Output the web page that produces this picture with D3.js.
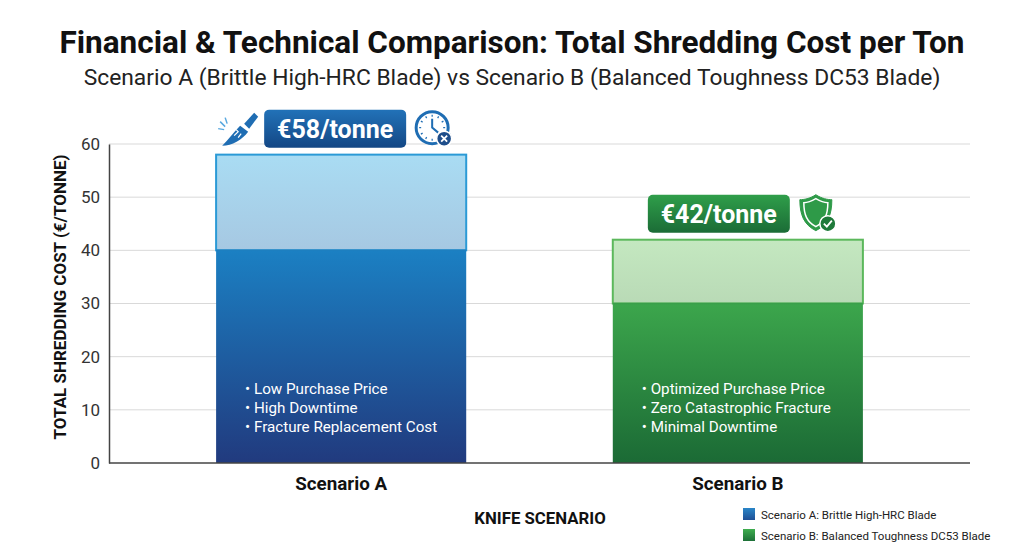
<!DOCTYPE html>
<html><head><meta charset="utf-8">
<script src="https://cdn.jsdelivr.net/npm/d3@7/dist/d3.min.js"></script>
<style>body{margin:0;background:#fff;font-family:Roboto,"Noto Sans",sans-serif;}</style>
</head><body><svg id="c" width="1024" height="559"></svg>
<script>
const categories = ["Scenario A", "Scenario B"];
const baseValues = [40, 30];
const extraValues = [18, 12];
const totalLabels = ["€58/tonne", "€42/tonne"];
const bulletsA = ["Low Purchase Price", "High Downtime", "Fracture Replacement Cost"];
const bulletsB = ["Optimized Purchase Price", "Zero Catastrophic Fracture", "Minimal Downtime"];
const yTicks = [0, 10, 20, 30, 40, 50, 60];
const legendLabels = ["Scenario A: Brittle High-HRC Blade", "Scenario B: Balanced Toughness DC53 Blade"];

const svg = d3.select("#c");
const defs = svg.append("defs");
function lg(id, c1, c2) {
  const g = defs.append("linearGradient").attr("id", id).attr("x1", 0).attr("y1", 0).attr("x2", 0).attr("y2", 1);
  g.append("stop").attr("offset", "0%").attr("stop-color", c1);
  g.append("stop").attr("offset", "100%").attr("stop-color", c2);
}
lg("aLow", "#1b80c3", "#213a7e");
lg("aHigh", "#a9dcf3", "#a6c8e2");
lg("bLow", "#3ca64c", "#1b6a35");
lg("bHigh", "#c4e8c0", "#b9dab6");
lg("aBadge", "#2272b8", "#134785");
lg("bBadge", "#2f9e4a", "#1b6c36");
lg("aLeg", "#2a86c8", "#1f4f95");
lg("bLeg", "#3fae4f", "#1d7038");

const x = d3.scaleBand().domain(categories).range([109, 970]).paddingInner(0.3695).paddingOuter(0.27);
const y = d3.scaleLinear().domain([0, 60]).range([463, 144]);

// title
svg.append("text").attr("x", 512).attr("y", 53).attr("text-anchor", "middle")
  .attr("font-size", 31.5).attr("font-weight", 700).attr("fill", "#111").text("Financial & Technical Comparison: Total Shredding Cost per Ton");
svg.append("text").attr("x", 512).attr("y", 85).attr("text-anchor", "middle")
  .attr("font-size", 22.8).attr("fill", "#222").text("Scenario A (Brittle High-HRC Blade) vs Scenario B (Balanced Toughness DC53 Blade)");

// grid
svg.append("g").selectAll("line").data(yTicks.filter(d => d > 0)).join("line")
  .attr("x1", 109).attr("x2", 970).attr("y1", d => y(d)).attr("y2", d => y(d))
  .attr("stroke", "#d9d9d9").attr("stroke-width", 1);

// y axis
const yAx = svg.append("g").attr("transform", "translate(109,0)")
  .call(d3.axisLeft(y).tickValues(yTicks).tickSize(0).tickPadding(9));
yAx.select(".domain").attr("stroke", "#444").attr("stroke-width", 1.5);
yAx.selectAll("text").attr("font-size", 17).attr("fill", "#333").attr("font-family", "Roboto");

svg.append("text").attr("transform", "translate(66,297) rotate(-90)").attr("text-anchor", "middle")
  .attr("font-size", 17).attr("font-weight", 700).attr("fill", "#111").text("TOTAL SHREDDING COST (€/TONNE)");

// bars
const lowFill = ["url(#aLow)", "url(#bLow)"];
const highFill = ["url(#aHigh)", "url(#bHigh)"];
const highStroke = ["#2b9ad6", "#5cb85c"];
const lowStroke = ["#1d7fc0", "#3a9f4a"];
categories.forEach((c, i) => {
  const x0 = x(c), w = x.bandwidth();
  svg.append("rect").attr("x", x0).attr("y", y(baseValues[i] + extraValues[i]))
    .attr("width", w).attr("height", y(baseValues[i]) - y(baseValues[i] + extraValues[i]))
    .attr("fill", highFill[i]).attr("stroke", highStroke[i]).attr("stroke-width", 2);
  svg.append("rect").attr("x", x0).attr("y", y(baseValues[i]))
    .attr("width", w).attr("height", y(0) - y(baseValues[i]))
    .attr("fill", lowFill[i]);
  svg.append("line").attr("x1", x0).attr("x2", x0 + w).attr("y1", y(baseValues[i])).attr("y2", y(baseValues[i]))
    .attr("stroke", lowStroke[i]).attr("stroke-width", 1.5);
});

// bullets
[bulletsA, bulletsB].forEach((arr, i) => {
  const x0 = x(categories[i]) + 29;
  svg.append("g").selectAll("text").data(arr).join("text")
    .attr("x", x0).attr("y", (d, j) => 394 + j * 19)
    .attr("font-size", 15.2).attr("fill", "#fff").text(d => "• " + d);
});

// x axis
svg.append("line").attr("x1", 109).attr("x2", 970).attr("y1", 463).attr("y2", 463).attr("stroke", "#444").attr("stroke-width", 1.5);
svg.append("g").selectAll("text").data(categories).join("text")
  .attr("x", d => x(d) + x.bandwidth() / 2).attr("y", 490).attr("text-anchor", "middle")
  .attr("font-size", 18.8).attr("font-weight", 700).attr("fill", "#111").text(d => d);
svg.append("text").attr("x", 540).attr("y", 524).attr("text-anchor", "middle")
  .attr("font-size", 16.8).attr("font-weight", 700).attr("fill", "#111").text("KNIFE SCENARIO");

// badges
const badgeFill = ["url(#aBadge)", "url(#bBadge)"];
categories.forEach((c, i) => {
  const top = y(baseValues[i] + extraValues[i]);
  const cx = x(c) + x.bandwidth() / 2 - 6 + (i === 1 ? -13 : 0);
  const bw = 142, bh = 38;
  const bx = cx - bw / 2, by = top - 45;
  svg.append("rect").attr("x", bx).attr("y", by).attr("width", bw).attr("height", bh).attr("rx", 5)
    .attr("fill", badgeFill[i]);
  svg.append("text").attr("x", bx + bw / 2).attr("y", by + 28).attr("text-anchor", "middle")
    .attr("font-size", 25).attr("font-weight", 700).attr("fill", "#fff").text(totalLabels[i]);
  if (i === 0) {
    // knife
    const k = svg.append("g").attr("transform", `translate(${bx - 48},${by})`);
    k.append("path").attr("d", "M6,36 C12,30 18,22 24,16 L32,22 C26,30 16,36 6,36 Z").attr("fill", "#1f6db3");
    k.append("path").attr("d", "M28,14 L38,3 L42,7 L33,19 Z").attr("fill", "#1f6db3");
    k.append("path").attr("d", "M18,26 L22,22 L20,20 M22,28 L25,24").attr("stroke", "#fff").attr("stroke-width", 1.2).attr("fill", "none");
    k.append("path").attr("d", "M4,12 L9,17 M9,8 L11,14 M2,19 L8,20").attr("stroke", "#5aa9e0").attr("stroke-width", 1.5);
    // clock
    const cl = svg.append("g").attr("transform", `translate(${bx + bw + 26},${by + 18})`);
    cl.append("circle").attr("r", 16).attr("fill", "#fff").attr("stroke", "#1f6db3").attr("stroke-width", 3);
    d3.range(12).forEach(t => {
      const a = t * Math.PI / 6;
      cl.append("line").attr("x1", Math.sin(a) * 11).attr("y1", -Math.cos(a) * 11).attr("x2", Math.sin(a) * 13).attr("y2", -Math.cos(a) * 13)
        .attr("stroke", "#1f6db3").attr("stroke-width", 1.2);
    });
    cl.append("path").attr("d", "M0,-9 L0,0 L6,5").attr("stroke", "#1f6db3").attr("stroke-width", 2).attr("fill", "none");
    cl.append("circle").attr("cx", 12).attr("cy", 11).attr("r", 7.5).attr("fill", "#1d4d8a").attr("stroke", "#fff").attr("stroke-width", 1.5);
    cl.append("path").attr("d", "M9,8 L15,14 M15,8 L9,14").attr("stroke", "#fff").attr("stroke-width", 1.8);
  } else {
    const sh = svg.append("g").attr("transform", `translate(${bx + bw + 8},${by - 2})`);
    sh.append("path").attr("d", "M18,2 C24,6 30,7 34,7 C34,22 30,32 18,38 C6,32 2,22 2,7 C6,7 12,6 18,2 Z")
      .attr("fill", "#2e9a48").attr("stroke", "#2e9a48").attr("stroke-width", 1);
    sh.append("path").attr("d", "M18,6 C23,9 27,10 30,10 C30,22 27,29 18,34 C9,29 6,22 6,10 C9,10 13,9 18,6 Z")
      .attr("fill", "none").attr("stroke", "#fff").attr("stroke-width", 1.5);
    sh.append("circle").attr("cx", 30).attr("cy", 31).attr("r", 8).attr("fill", "#1f7a3a").attr("stroke", "#fff").attr("stroke-width", 1.5);
    sh.append("path").attr("d", "M26,31 L29,34 L34,28").attr("stroke", "#fff").attr("stroke-width", 1.8).attr("fill", "none");
  }
});

// legend
const legFill = ["url(#aLeg)", "url(#bLeg)"];
const lgG = svg.append("g").selectAll("g").data(legendLabels).join("g")
  .attr("transform", (d, i) => `translate(743,${508 + i * 21})`);
lgG.append("rect").attr("width", 12).attr("height", 12).attr("fill", (d, i) => legFill[i]);
lgG.append("text").attr("x", 18).attr("y", 10.5).attr("font-size", 11.5).attr("fill", "#222").text(d => d);
</script></body></html>
